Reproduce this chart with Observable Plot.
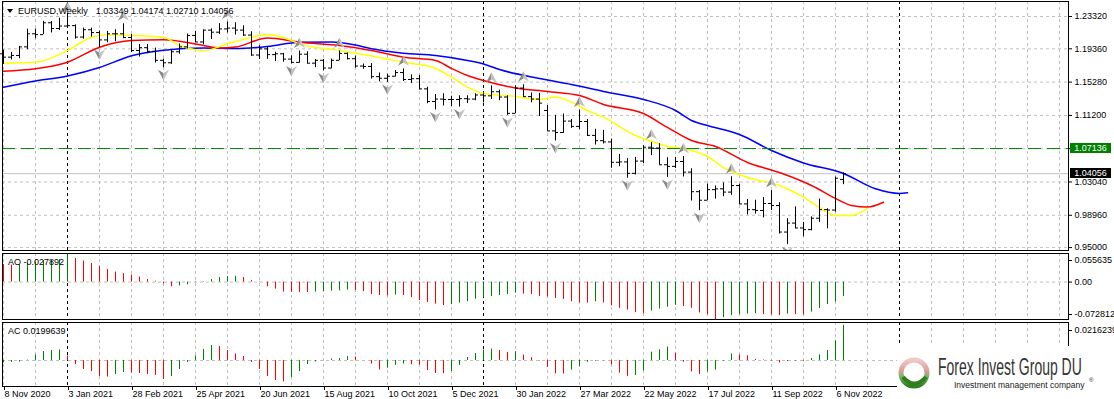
<!DOCTYPE html>
<html><head><meta charset="utf-8">
<script src="https://cdn.jsdelivr.net/npm/d3@7"></script>
<script src="https://cdn.jsdelivr.net/npm/@observablehq/plot@0.6"></script>
<style>
html,body{margin:0;padding:0;background:#fff;}
#chart{position:relative;width:1114px;height:399px;overflow:hidden;font-family:"Liberation Sans",Arial,sans-serif;font-size:9px;color:#000;}
#chart .panel{position:absolute;left:0;}
#chart .lbl{position:absolute;white-space:nowrap;line-height:10px;}
#chart .box{position:absolute;left:1070px;width:41px;height:10px;line-height:10px;color:#fff;text-align:center;}
</style></head><body><div id="chart"></div>
<script>
// ---------- DATA ----------
const symbolName = "EURUSD,Weekly";
const firstWeek = "2020-11-08";           // Sunday of the first visible weekly bar
const opens = [1.1875,1.1834,1.1855,1.1960,1.2120,1.2110,1.2255,1.2185,1.2215,1.2220,
1.2080,1.2170,1.2135,1.2045,1.2120,1.2120,1.2075,1.1915,1.1950,1.1905,
1.1795,1.1765,1.1900,1.1960,1.2100,1.2020,1.2165,1.2140,1.2180,1.2190,
1.2165,1.2105,1.1860,1.1935,1.1865,1.1875,1.1810,1.1770,1.1870,1.1760,
1.1795,1.1700,1.1795,1.1880,1.1815,1.1725,1.1720,1.1595,1.1575,1.1600,
1.1645,1.1560,1.1570,1.1445,1.1290,1.1320,1.1315,1.1315,1.1325,1.1320,
1.1370,1.1360,1.1410,1.1345,1.1145,1.1455,1.1350,1.1320,1.1180,1.0930,
1.0910,1.1050,1.0985,1.1045,1.0875,1.0810,1.0795,1.0545,1.0550,1.0410,
1.0560,1.0730,1.0720,1.0515,1.0495,1.0555,1.0425,1.0185,1.0080,1.0210,
1.0220,1.0180,1.0260,1.0035,0.9965,0.9955,1.0040,1.0015,0.9690,0.9800,
0.9740,0.9720,0.9860,0.9965,0.9960,1.03349];
const highs = [1.1920,1.1892,1.1965,1.2177,1.2178,1.2273,1.2270,1.2310,1.2349,1.2230,
1.2190,1.2190,1.2155,1.2150,1.2170,1.2243,1.2113,1.1990,1.1990,1.1945,
1.1810,1.1915,1.1995,1.2117,1.2150,1.2167,1.2181,1.2245,1.2265,1.2255,
1.2218,1.2145,1.1975,1.1960,1.1895,1.1880,1.1850,1.1909,1.1900,1.1805,
1.1805,1.1810,1.1910,1.1885,1.1846,1.1750,1.1755,1.1640,1.1625,1.1670,
1.1690,1.1617,1.1610,1.1465,1.1375,1.1385,1.1355,1.1360,1.1360,1.1385,
1.1385,1.1482,1.1430,1.1360,1.1483,1.1495,1.1395,1.1390,1.1240,1.1120,
1.1137,1.1070,1.1185,1.1070,1.0950,1.0936,1.0830,1.0642,1.0590,1.0605,
1.0750,1.0786,1.0774,1.0601,1.0605,1.0615,1.0465,1.0200,1.0278,1.0255,
1.0293,1.0368,1.0275,1.0090,1.0080,1.0112,1.0198,1.0050,0.9853,0.9999,
0.9809,0.9876,1.0094,0.9976,1.0364,1.04174];
const lows = [1.1745,1.1800,1.1815,1.1925,1.2058,1.2110,1.2130,1.2160,1.2195,1.2055,
1.2055,1.2080,1.1952,1.2010,1.2023,1.2060,1.1890,1.1835,1.1875,1.1762,
1.1704,1.1745,1.1870,1.1935,1.2015,1.1986,1.2051,1.2112,1.2130,1.2105,
1.2090,1.1845,1.1805,1.1807,1.1780,1.1772,1.1752,1.1760,1.1755,1.1705,
1.1665,1.1690,1.1790,1.1800,1.1700,1.1685,1.1565,1.1530,1.1525,1.1590,
1.1535,1.1513,1.1433,1.1263,1.1186,1.1235,1.1225,1.1222,1.1265,1.1300,
1.1273,1.1315,1.1300,1.1121,1.1140,1.1340,1.1275,1.1106,1.0925,1.0806,
1.0900,1.0960,1.0945,1.0865,1.0757,1.0770,1.0472,1.0492,1.0350,1.0390,
1.0530,1.0627,1.0515,1.0360,1.0470,1.0365,1.0070,0.9952,1.0078,1.0095,
1.0123,1.0140,1.0030,0.9900,0.9910,0.9863,0.9955,0.9666,0.9535,0.9735,
0.9632,0.9705,0.9808,0.9730,0.9935,1.02710];
const closes = [1.1834,1.1855,1.1960,1.2120,1.2110,1.2255,1.2185,1.2215,1.2220,1.2080,
1.2170,1.2135,1.2045,1.2120,1.2120,1.2075,1.1915,1.1950,1.1905,1.1795,
1.1765,1.1900,1.1960,1.2100,1.2020,1.2165,1.2140,1.2180,1.2190,1.2165,
1.2105,1.1860,1.1935,1.1865,1.1875,1.1810,1.1770,1.1870,1.1760,1.1795,
1.1700,1.1795,1.1880,1.1815,1.1725,1.1720,1.1595,1.1575,1.1600,1.1645,
1.1560,1.1570,1.1445,1.1290,1.1320,1.1315,1.1315,1.1325,1.1320,1.1370,
1.1360,1.1410,1.1345,1.1145,1.1455,1.1350,1.1320,1.1270,1.0930,1.0910,
1.1050,1.0985,1.1045,1.0875,1.0810,1.0795,1.0545,1.0550,1.0410,1.0560,
1.0730,1.0720,1.0515,1.0495,1.0555,1.0425,1.0185,1.0080,1.0210,1.0220,
1.0180,1.0260,1.0035,0.9965,0.9955,1.0040,1.0015,0.9690,0.9800,0.9740,
0.9720,0.9860,0.9965,0.9960,1.0350,1.04056];

// Alligator lines (week number from firstWeek, price)
const jawWeeks = [0,4,8,12,16,20,25,29,33,37,41,44,46,50,54,58,60,62,67,71,75,80,84,86,88,92,96,100,105,109,112,113];
const jawPrices = [1.1466,1.1542,1.1603,1.1707,1.1852,1.1919,1.1946,1.1940,1.1964,1.2016,1.2020,1.1983,1.1936,1.1882,1.1854,1.1793,1.1750,1.1682,1.1572,1.1499,1.1413,1.1315,1.1180,1.1057,1.0996,1.0886,1.0690,1.0537,1.0408,1.0220,1.0163,1.0171];
const teethWeeks = [0,4,8,12,16,20,25,27,29,33,37,42,46,50,54,56,58,60,64,68,72,75,80,83,86,89,93,97,101,104,106,108,110];
const teethPrices = [1.1662,1.1691,1.1772,1.1956,1.2038,1.2046,1.1977,1.1946,1.1958,1.2069,1.2017,1.1977,1.1915,1.1833,1.1793,1.1695,1.1609,1.1548,1.1456,1.1413,1.1364,1.1254,1.1143,1.0972,1.0812,1.0739,1.0543,1.0420,1.0261,1.0102,1.0016,0.9997,1.0056];
const lipsWeeks = [0,4,8,11,13,16,20,22,24,25,28,31,33,35,37,42,46,50,54,56,58,60,64,67,69,71,73,75,79,81,83,85,88,90,93,97,100,102,104,106,108];
const lipsPrices = [1.1760,1.1772,1.1915,1.2078,1.2108,1.2099,1.2078,1.1977,1.1924,1.1915,1.1997,1.2078,1.2111,1.2075,1.1997,1.1915,1.1848,1.1772,1.1695,1.1588,1.1466,1.1388,1.1352,1.1315,1.1345,1.1282,1.1180,1.1098,1.0874,1.0800,1.0739,1.0714,1.0616,1.0481,1.0359,1.0261,1.0118,0.9991,0.9893,0.9893,0.9979];

const upFractals = ["2021-01-03","2021-02-21","2021-05-23","2021-07-25","2021-08-29","2021-10-24","2022-01-09","2022-02-06","2022-03-27","2022-05-29","2022-06-26","2022-08-07","2022-09-11"];
const downFractals = ["2021-01-31","2021-03-28","2021-07-18","2021-08-15","2021-10-10","2021-11-21","2021-12-12","2022-01-23","2022-03-06","2022-05-08","2022-06-12","2022-07-10","2022-09-25"];
const yearSeparators = ["2021-01-03","2022-01-02","2023-01-01"];

const priceTicks = [1.2332,1.1936,1.1528,1.1120,1.0712,1.0304,0.9896,0.9500];
const levelLine = 1.07136;
const lastPrice = 1.04056;

// Awesome Oscillator and Accelerator, first value = week before firstWeek
const aoValues = [0.0350,0.0341,0.0331,0.0341,0.0360,0.0380,0.0418,0.0428,0.0438,0.055635,
0.0457,0.0409,0.0360,0.0302,0.0243,0.0195,0.0165,0.0136,0.0097,0.0049,
0.0016,-0.0035,-0.0090,-0.0076,-0.0054,-0.0010,0.0010,0.0049,0.0088,0.0107,
0.0113,0.0088,0.0029,-0.0010,-0.0090,-0.0136,-0.0195,-0.0199,-0.0200,-0.0204,
-0.0195,-0.0185,-0.0175,-0.0171,-0.0156,-0.0165,-0.0185,-0.0243,-0.0263,-0.0269,
-0.0253,-0.0263,-0.0302,-0.0360,-0.0399,-0.0428,-0.0457,-0.0438,-0.0409,-0.0380,
-0.0331,-0.0302,-0.0282,-0.0263,-0.0243,-0.0214,-0.0234,-0.0243,-0.0282,-0.0292,
-0.0319,-0.0335,-0.0383,-0.0405,-0.0409,-0.0383,-0.0405,-0.0461,-0.0510,-0.0545,
-0.0594,-0.0615,-0.0564,-0.0524,-0.0489,-0.0453,-0.0475,-0.0510,-0.0601,-0.0636,
-0.072812,-0.0691,-0.0652,-0.0633,-0.0623,-0.0613,-0.0633,-0.0642,-0.0652,-0.0623,
-0.0633,-0.0642,-0.0584,-0.0516,-0.0438,-0.0389,-0.027892];
const acValues = [-0.0023,-0.0014,-0.0011,-0.0009,0.0002,0.0031,0.0051,0.0057,0.0060,0.0026,
-0.0023,-0.0051,-0.0063,-0.0091,-0.0094,-0.0080,-0.0068,-0.0071,-0.0074,-0.0080,
-0.0085,-0.0108,-0.0091,-0.0051,-0.0011,0.0026,0.0063,0.0085,0.0080,0.0057,
0.0037,0.0023,-0.0011,-0.0051,-0.0091,-0.0114,-0.0122,-0.0097,-0.0063,-0.0023,
-0.0008,0.0000,0.0009,0.0011,0.0022,0.0020,0.0000,-0.0020,-0.0054,-0.0044,
-0.0028,-0.0020,-0.0024,-0.0026,-0.0057,-0.0074,-0.0075,-0.0063,-0.0028,0.0017,
0.0040,0.0060,0.0065,0.0057,0.0046,0.0050,0.0031,0.0016,-0.0003,-0.0039,
-0.0076,-0.0077,-0.0055,-0.0035,-0.0010,-0.0004,-0.0002,-0.0024,-0.0072,-0.0090,
-0.0085,-0.0059,0.0047,0.0061,0.0077,0.0041,-0.0010,-0.0065,-0.0080,-0.0065,
-0.0055,-0.0004,0.0037,0.0031,0.0027,0.0006,0.0003,-0.0003,-0.0014,-0.0006,
-0.0003,-0.0005,0.0011,0.0032,0.0057,0.0112,0.0199639];
const aoMax = 0.055635, aoMin = -0.072812;
const acMax = 0.0216239, acMin = -0.0148;
const logoTitle = "Forex Invest Group DU";
const logoSub = "Investment management company";

// ---------- BUILD ----------
const W = 7 * 864e5;
const t0 = +new Date(firstWeek + "T00:00:00Z");
const wk = i => new Date(t0 + i * W);
const xDomain = [new Date(t0 - 0.125 * W), new Date(t0 + 133.125 * W)];
const GRID = "#c0c0c0", UP = "#008000", DN = "#ff0000";
const bars = closes.map((c, i) => ({t: wk(i), o: opens[i], h: highs[i], l: lows[i], c}));
const byTime = new Map(bars.map(b => [+b.t, b]));
const toD = s => new Date(s + "T00:00:00Z");
const upF = upFractals.map(s => byTime.get(+toD(s)));
const dnF = downFractals.map(s => byTime.get(+toD(s)));
const line = (ws, ps) => ws.map((w, i) => ({t: wk(w), v: ps[i]}));
const gridWeeks = d3.range(0, 134, 4).map(wk);
const labelWeeks = d3.range(0, 106, 8).map(wk);
const seps = yearSeparators.map(toD);
const osc = vals => vals.slice(1).map((v, i) => ({t: wk(i), v, up: v > vals[i]}));
const aoData = osc(aoValues), acData = osc(acValues);

const half = (dir, side) => ({draw(ctx, size) {
  const r = Math.sqrt(size / Math.PI);
  ctx.moveTo(0, -dir * r);
  ctx.lineTo(side * r, dir * r * 0.9);
  ctx.lineTo(0, dir * r * 0.3);
  ctx.closePath();
}});
const fractalMarks = (data, key, dir, dy) => [
  Plot.dot(data, {x: "t", y: key, symbol: half(dir, -1), r: 5.5, dy, fill: "#8a8a8a", stroke: "none", clip: true}),
  Plot.dot(data, {x: "t", y: key, symbol: half(dir, 1), r: 5.5, dy, fill: "#c2c2c2", stroke: "none", clip: true})
];
const oscBars = data => [
  Plot.ruleX(data.filter(d => d.up), {x: "t", y1: 0, y2: "v", stroke: UP}),
  Plot.ruleX(data.filter(d => !d.up), {x: "t", y1: 0, y2: "v", stroke: DN})
];

const style = {fontFamily: "Liberation Sans, Arial, sans-serif", fontSize: "9px", background: "transparent", color: "#000", overflow: "visible"};
const base = {width: 1114, marginLeft: 2, marginRight: 46, style, x: {type: "utc", domain: xDomain, axis: null}};
const vgrid = [
  Plot.ruleX(gridWeeks, {stroke: GRID, strokeDasharray: "3,3"}),
  Plot.ruleX(seps, {stroke: "#000", strokeDasharray: "3,3"})
];

const main = Plot.plot({
  ...base, height: 251, marginTop: 1, marginBottom: 1,
  y: {domain: [0.9464, 1.2516], axis: null},
  marks: [
    Plot.ruleY(priceTicks, {stroke: GRID, strokeDasharray: "3,3"}),
    ...vgrid,
    Plot.ruleY([lastPrice], {stroke: GRID}),
    Plot.line(line(jawWeeks, jawPrices), {x: "t", y: "v", stroke: "#0000ff", curve: "monotone-x"}),
    Plot.line(line(teethWeeks, teethPrices), {x: "t", y: "v", stroke: "#ff0000", curve: "monotone-x"}),
    Plot.line(line(lipsWeeks, lipsPrices), {x: "t", y: "v", stroke: "#ffff00", curve: "monotone-x"}),
    Plot.ruleY([levelLine], {stroke: "#008000", strokeDasharray: "13,6"}),
    Plot.ruleX(bars, {x: "t", y1: "l", y2: "h", stroke: "#000"}),
    Plot.ruleY(bars, {x1: d => new Date(+d.t - 0.375 * W), x2: "t", y: "o", stroke: "#000"}),
    Plot.ruleY(bars, {x1: "t", x2: d => new Date(+d.t + 0.375 * W), y: "c", stroke: "#000"}),
    ...fractalMarks(upF, "h", 1, -8),
    ...fractalMarks(dnF, "l", -1, 7),
    Plot.axisY({anchor: "right", ticks: priceTicks, tickFormat: d => d.toFixed(5), tickSize: 3, tickPadding: 3, label: null}),
    Plot.frame({stroke: "#000"})
  ]
});

const aoPlot = Plot.plot({
  ...base, height: 68, marginTop: 1, marginBottom: 1,
  y: {domain: [aoMin, aoMax], axis: null},
  marks: [
    Plot.ruleY([0], {stroke: GRID, strokeDasharray: "3,3"}),
    ...vgrid,
    ...oscBars(aoData),
    Plot.axisY({anchor: "right", ticks: [aoMax], tickFormat: d => d.toFixed(6), tickSize: 3, tickPadding: 3, dy: 7, label: null}),
    Plot.axisY({anchor: "right", ticks: [0], tickFormat: d => d.toFixed(2), tickSize: 3, tickPadding: 3, label: null}),
    Plot.axisY({anchor: "right", ticks: [aoMin], tickFormat: d => d.toFixed(6), tickSize: 3, tickPadding: 3, dy: -5, label: null}),
    Plot.frame({stroke: "#000"})
  ]
});

const acPlot = Plot.plot({
  ...base, height: 78, marginTop: 1, marginBottom: 13,
  y: {domain: [acMin, acMax], axis: null},
  marks: [
    Plot.ruleY([0], {stroke: GRID, strokeDasharray: "3,3"}),
    ...vgrid,
    ...oscBars(acData),
    Plot.axisY({anchor: "right", ticks: [acMax], tickFormat: d => d.toFixed(7), tickSize: 3, tickPadding: 3, dy: 8, label: null}),
    Plot.axisX({ticks: labelWeeks, tickFormat: d3.utcFormat("%-d %b %Y"), tickSize: 4, tickPadding: 0, textAnchor: "start", dx: 1, label: null}),
    Plot.frame({stroke: "#000"})
  ]
});

const root = document.getElementById("chart");
function place(el, top) { const d = document.createElement("div"); d.className = "panel"; d.style.top = top + "px"; d.appendChild(el); root.appendChild(d); }
place(main, 0); place(aoPlot, 252); place(acPlot, 321);

function addLabel(html, left, top) {
  const d = document.createElement("div"); d.className = "lbl"; d.style.left = left + "px"; d.style.top = top + "px";
  d.innerHTML = html; root.appendChild(d); return d;
}
// title
const tri = document.createElement("div");
Object.assign(tri.style, {position: "absolute", left: "7px", top: "9px", width: 0, height: 0, borderLeft: "3px solid transparent", borderRight: "3px solid transparent", borderTop: "4px solid #000"});
root.appendChild(tri);
addLabel(`${symbolName}<span style="margin-left:8px">${[opens[105], highs[105], lows[105], closes[105]].map(v => v.toFixed(5)).join(" ")}</span>`, 18, 6);
addLabel(`AO ${aoValues[aoValues.length - 1].toFixed(6)}`, 8, 257);
addLabel(`AC ${acValues[acValues.length - 1].toFixed(7)}`, 8, 326);

// price boxes on the right scale
const ys = main.scale("y");
function priceBox(v, bg) {
  const d = document.createElement("div"); d.className = "box";
  d.style.top = (ys.apply(v) - 5) + "px"; d.style.background = bg; d.textContent = v.toFixed(5);
  root.appendChild(d);
}
priceBox(levelLine, "#008000");
priceBox(lastPrice, "#000");

// logo area
const ns = "http://www.w3.org/2000/svg";
const logo = document.createElementNS(ns, "svg");
logo.setAttribute("width", 217); logo.setAttribute("height", 53);
Object.assign(logo.style, {position: "absolute", left: "897px", top: "346px"});
logo.innerHTML = `
<defs><linearGradient id="lg" x1="0" y1="0" x2="0" y2="1">
<stop offset="0" stop-color="#f0c8c4"/><stop offset="0.45" stop-color="#d89a94"/><stop offset="0.6" stop-color="#7fb86a"/><stop offset="1" stop-color="#2e7d1e"/></linearGradient></defs>
<rect x="0" y="0" width="217" height="53" fill="#fff"/>
<circle cx="17" cy="27" r="13" fill="none" stroke="url(#lg)" stroke-width="5"/>
<path d="M6 31 Q17 44 29 31" fill="none" stroke="#2e7d1e" stroke-width="4"/>
<text transform="translate(41,29) scale(1,1.75)" font-family="Liberation Sans, Arial, sans-serif" font-size="14" fill="#333">${logoTitle}</text>
<text x="57" y="42" font-family="Liberation Sans, Arial, sans-serif" font-size="8.5" fill="#222">${logoSub}</text>
<text x="192" y="36" font-family="Liberation Sans, Arial, sans-serif" font-size="6" fill="#222">®</text>`;
root.appendChild(logo);
</script>
</body></html>
